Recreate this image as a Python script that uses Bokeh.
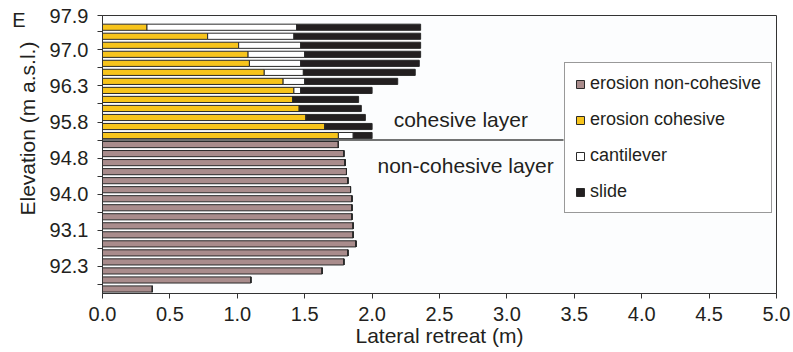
import numpy as np
from bokeh.plotting import figure
from bokeh.models import (ColumnDataSource, FixedTicker, Range1d, Legend, LegendItem,
                          Label, NumeralTickFormatter, Title, LinearAxis)
from bokeh.embed import file_html
from bokeh.resources import INLINE

# ---- data (bars listed from the lowest elevation slice to the highest) ----
elevation_labels = ["92.3", "93.1", "94.0", "94.8", "95.8", "96.3", "97.0", "97.9"]

erosion_noncohesive = [0.37, 1.10, 1.63, 1.79, 1.82, 1.88, 1.86, 1.86, 1.85, 1.85,
                       1.85, 1.84, 1.82, 1.81, 1.80, 1.79, 1.75] + [0.0] * 13
erosion_cohesive = [0.0] * 17 + [1.75, 1.65, 1.51, 1.46, 1.41, 1.42, 1.34, 1.20,
                                 1.09, 1.08, 1.01, 0.78, 0.33]
cantilever = [0.0] * 17 + [0.11, 0.0, 0.0, 0.0, 0.0, 0.05, 0.16, 0.29,
                           0.38, 0.42, 0.46, 0.64, 1.11]
slide = [0.0] * 17 + [0.14, 0.35, 0.44, 0.46, 0.49, 0.53, 0.69, 0.83,
                      0.88, 0.86, 0.89, 0.94, 0.92]

series_names = ["erosion non-cohesive", "erosion cohesive", "cantilever", "slide"]
series_colors = ["#a98c8c", "#f7c41c", "#ffffff", "#231f20"]

n = len(erosion_noncohesive)
n_noncoh = sum(1 for v in erosion_noncohesive if v > 0)
ypos = np.arange(n)

src = ColumnDataSource(dict(y=ypos, ncoh=erosion_noncohesive, coh=erosion_cohesive,
                            cant=cantilever, slide=slide))

FONT = "Liberation Sans"
TXT = "#231f20"

p = figure(width=793, height=352, output_backend="svg", toolbar_location=None,
           x_range=Range1d(0, 5), y_range=Range1d(-0.5, n + 0.3),
           min_border_left=102, min_border_right=17, min_border_top=15,
           min_border_bottom=59)
p.background_fill_color = "#fcfdfe"
p.border_fill_color = "white"
p.outline_line_color = "#333333"
p.outline_line_width = 1
p.xgrid.visible = False
p.ygrid.visible = False

# boundary between the cohesive and non-cohesive layer (ends at the legend box)
boundary = n_noncoh - 0.5
p.segment(x0=[0], y0=[boundary], x1=[3.42], y1=[boundary], line_color="#444444", line_width=1.5)

rends = p.hbar_stack(["ncoh", "coh", "cant", "slide"], y="y", height=0.68, source=src,
                     fill_color=series_colors, line_color="#2a2a2a", line_width=1)

legend = Legend(items=[LegendItem(label=nm, renderers=[r]) for nm, r in zip(series_names, rends)],
                location=(462, 80), margin=0, padding=10, spacing=15,
                label_height=20, glyph_height=10, glyph_width=10, label_standoff=5,
                label_text_font=FONT, label_text_font_size="18px", label_text_color=TXT,
                border_line_color="#333333", border_line_width=1,
                background_fill_color="white", background_fill_alpha=1)
p.add_layout(legend)

# x axis
p.xaxis.ticker = FixedTicker(ticks=[i * 0.5 for i in range(11)])
p.xaxis.formatter = NumeralTickFormatter(format="0.0")
p.xaxis.axis_label = "Lateral retreat (m)"
p.xaxis.axis_label_text_font = FONT
p.xaxis.axis_label_text_font_size = "21px"
p.xaxis.axis_label_text_font_style = "normal"
p.xaxis.axis_label_text_color = TXT
p.xaxis.axis_label_standoff = 0

# y axis: labels every fourth slice boundary, minor ticks in between
major = [2.5 + 4 * k for k in range(len(elevation_labels) - 1)] + [n + 0.3]
minor = [0.5 + 4 * k for k in range(len(elevation_labels))]
p.yaxis.ticker = FixedTicker(ticks=major, minor_ticks=minor)
p.yaxis.major_label_overrides = {t: lab for t, lab in zip(major, elevation_labels)}

for ax in (p.xaxis, p.yaxis):
    ax.major_label_text_font = FONT
    ax.major_label_text_font_size = "20px"
    ax.major_label_text_color = TXT
    ax.axis_line_color = "#333333"
    ax.major_tick_line_color = "#333333"
    ax.major_tick_out = 5
    ax.major_tick_in = 0
p.xaxis.minor_tick_line_color = None
p.yaxis.minor_tick_line_color = "#333333"
p.yaxis.minor_tick_out = 5
p.yaxis.minor_tick_in = 0
p.xaxis.major_label_standoff = 8
p.yaxis.major_label_standoff = 9

# y-axis title (placed lower-anchored, like the original)
ytitle = Title(text="Elevation (m a.s.l.)", align="left", offset=78, standoff=15,
               text_font=FONT, text_font_size="21px", text_font_style="normal",
               text_color=TXT)
p.add_layout(ytitle, "left")

# panel letter "E"
e_pos = 29.84
eaxis = LinearAxis(ticker=FixedTicker(ticks=[e_pos]), major_label_overrides={e_pos: "E"},
                   axis_line_color=None, major_tick_line_color=None,
                   minor_tick_line_color=None, major_tick_out=0, major_tick_in=0,
                   major_label_standoff=-19,
                   major_label_text_font=FONT, major_label_text_font_size="20px",
                   major_label_text_color=TXT)
p.add_layout(eaxis, "left")

# layer annotations
p.add_layout(Label(x=2.16, y=18.77, text="cohesive layer", text_align="left",
                   text_baseline="alphabetic", text_font=FONT, text_font_size="21px",
                   text_color=TXT))
p.add_layout(Label(x=2.04, y=13.67, text="non-cohesive layer", text_align="left",
                   text_baseline="alphabetic", text_font=FONT, text_font_size="21px",
                   text_color=TXT))

open("out.html", "w").write(file_html(p, INLINE))
